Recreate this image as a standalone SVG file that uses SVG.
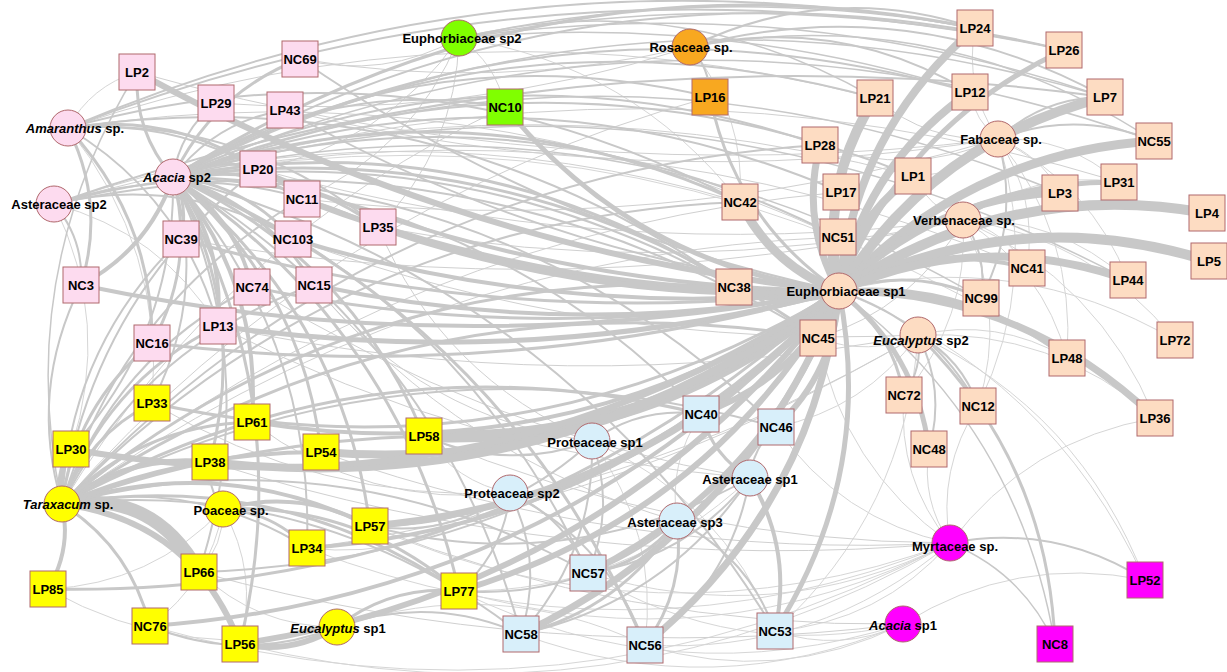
<svg xmlns="http://www.w3.org/2000/svg" width="1227" height="672" viewBox="0 0 1227 672">
<style>
.e{fill:none;stroke:#c8c8c8}
.t{fill:none;stroke:#d6d6d6}
.u{fill:none;stroke:#d0d0d0}
.n{stroke:#b0686c;stroke-width:1}
.pk{fill:#fddbef}.pe{fill:#fddcc2}.gr{fill:#80ff00}.or{fill:#f8a820}.ye{fill:#ffff00}.bl{fill:#d8effa}.mg{fill:#ff00ff}
text{font-family:"Liberation Sans",Arial,sans-serif;font-size:13px;font-weight:bold;fill:#000;text-anchor:middle}
.i{font-style:italic}
</style>
<rect width="1227" height="672" fill="#fff"/>
<g id="connectors">
<!-- thin -->
<g class="t" stroke-width="1">
<path d="M68 128Q91 86 137 72"/><path d="M68 128Q165 249 152 403"/>
<path d="M54 204Q112 323 71 449"/><path d="M54 204Q160 232 218 326"/>
<path d="M223 509Q224 545 199 572"/><path d="M223 509Q210 582 150 626"/><path d="M223 509Q259 573 240 644"/><path d="M223 509Q152 584 48 589"/>
<path d="M337 627Q185 666 48 589"/><path d="M337 627Q257 627 199 572"/><path d="M337 627Q495 574 645 645"/>
<path d="M592 441Q659 532 645 645"/><path d="M592 441Q722 499 775 631"/>
<path d="M510 493Q456 482 424 436"/><path d="M510 493Q420 561 307 548"/>
<path d="M750 478Q627 593 459 591"/><path d="M677 521Q668 463 701 414"/>
<path d="M950 543Q937 469 978 406"/><path d="M950 543Q921 500 929 449"/><path d="M950 543Q880 622 775 631"/><path d="M950 543Q818 655 645 645"/><path d="M950 543Q714 665 459 591"/><path d="M950 543Q775 630 588 573"/><path d="M950 543Q657 651 370 526"/><path d="M950 543Q840 520 776 427"/><path d="M950 543Q630 674 307 548"/><path d="M950 543Q843 467 818 338"/><path d="M950 543Q1028 440 1155 418"/><path d="M950 543Q897 478 904 395"/><path d="M950 543Q615 736 240 644"/><path d="M950 543Q567 745 150 626"/>
<path d="M903 624Q1015 554 1145 580"/><path d="M903 624Q840 653 775 631"/><path d="M903 624Q778 686 645 645"/><path d="M903 624Q714 705 521 634"/><path d="M903 624Q674 696 459 591"/><path d="M903 624Q735 662 588 573"/>
<path d="M918 335Q1081 412 1145 580"/><path d="M918 335Q997 317 1067 358"/><path d="M918 335Q1053 329 1155 418"/><path d="M918 335Q869 357 818 338"/><path d="M918 335Q906 512 775 631"/><path d="M918 335Q865 409 776 427"/>
<path d="M998 139Q975 121 970 92"/><path d="M998 139Q963 175 913 176"/><path d="M998 139Q1038 198 1027 268"/><path d="M998 139Q1067 136 1119 182"/><path d="M998 139Q1040 154 1060 193"/><path d="M998 139Q1091 184 1128 280"/><path d="M998 139Q1076 235 1067 358"/><path d="M998 139Q1041 277 978 406"/><path d="M998 139Q964 88 975 28"/>
<path d="M963 220Q1033 170 1119 182"/><path d="M963 220Q1005 231 1027 268"/><path d="M963 220Q1058 217 1128 280"/><path d="M963 220Q1008 310 978 406"/><path d="M963 220Q929 208 913 176"/><path d="M963 220Q1093 238 1175 340"/><path d="M963 220Q1043 268 1067 358"/><path d="M963 220Q969 319 904 395"/><path d="M963 220Q1099 281 1155 418"/>
<path d="M690 47Q746 115 740 202"/>
<path d="M459 38Q496 63 505 107"/><path d="M459 38Q632 64 740 202"/>
<path d="M839 291Q1017 248 1175 340"/><path d="M839 291Q1050 374 1145 580"/>
<path d="M173 177Q656 89 1067 358"/>
</g>
<g class="u" stroke-width="1">
<path d="M998 139Q561 192 137 72"/><path d="M998 139Q639 196 285 110"/><path d="M998 139Q656 239 302 199"/>
<path d="M963 220Q605 265 258 169"/><path d="M963 220Q574 308 181 239"/><path d="M963 220Q671 282 378 227"/>
<path d="M918 335Q596 350 293 239"/><path d="M918 335Q567 401 218 326"/>
<path d="M690 47Q459 122 216 103"/><path d="M690 47Q496 92 300 59"/>
<path d="M459 38Q385 144 258 169"/><path d="M459 38Q413 150 302 199"/><path d="M459 38Q456 149 378 227"/><path d="M459 38Q384 80 300 59"/>
<path d="M68 128Q467 -8 875 98"/><path d="M68 128Q469 67 838 237"/><path d="M54 204Q479 61 913 176"/><path d="M54 204Q397 100 740 202"/>
<path d="M173 177Q614 94 1027 268"/><path d="M173 177Q647 38 1119 182"/>
<path d="M62 504Q410 254 838 237"/><path d="M62 504Q405 231 841 192"/><path d="M62 504Q224 239 505 107"/><path d="M62 504Q325 203 710 97"/>
<path d="M592 441Q442 377 378 227"/><path d="M592 441Q422 419 314 285"/>
<path d="M750 478Q469 455 218 326"/><path d="M750 478Q482 432 252 287"/><path d="M677 521Q460 458 314 285"/>
<path d="M510 493Q367 509 252 422"/><path d="M510 493Q318 502 152 403"/>
<path d="M950 543Q676 542 424 436"/><path d="M950 543Q626 560 321 452"/><path d="M950 543Q572 577 210 462"/>
<path d="M903 624Q627 628 370 526"/><path d="M903 624Q546 668 199 572"/>
<path d="M918 335Q663 485 370 526"/><path d="M918 335Q634 503 307 548"/>
<path d="M963 220Q914 308 818 338"/><path d="M998 139Q910 178 820 145"/><path d="M998 139Q928 143 875 98"/>
</g>
<!-- medium/thick -->
<g class="e">
<path d="M459 38Q716 -19 975 28" stroke-width="1.5"/><path d="M459 38Q720 14 970 92" stroke-width="1.5"/><path d="M459 38Q763 -17 1064 50" stroke-width="1.5"/><path d="M459 38Q789 -10 1105 97" stroke-width="1.5"/><path d="M459 38Q679 -15 875 98" stroke-width="1.5"/>
<path d="M690 47Q710 68 710 97" stroke-width="2"/><path d="M690 47Q829 -20 975 28" stroke-width="2"/><path d="M690 47Q839 14 970 92" stroke-width="2"/><path d="M690 47Q908 -11 1105 97" stroke-width="2"/><path d="M690 47Q941 1 1154 141" stroke-width="1.5"/>
<path d="M998 139Q1043 97 1105 97" stroke-width="2"/><path d="M998 139Q1076 109 1154 141" stroke-width="2"/><path d="M998 139Q1021 222 981 298" stroke-width="2"/>
<path d="M963 220Q1006 187 1060 193" stroke-width="2"/><path d="M963 220Q988 255 981 298" stroke-width="2"/>
<path d="M918 335Q1048 462 1055 644" stroke-width="3"/><path d="M918 335Q962 359 978 406" stroke-width="2"/><path d="M918 335Q923 368 904 395" stroke-width="2"/><path d="M918 335Q946 390 929 449" stroke-width="2"/>
<path d="M950 543Q1055 523 1145 580" stroke-width="2"/><path d="M950 543Q1023 573 1055 644" stroke-width="1.5"/>
<path d="M839 291Q1018 424 1055 644" stroke-width="1.5"/>
<!-- Amaranthus -->
<path d="M68 128Q171 111 258 169" stroke-width="3"/><path d="M68 128Q106 204 81 285" stroke-width="3"/><path d="M68 128Q153 219 152 343" stroke-width="3"/><path d="M68 128Q183 197 218 326" stroke-width="2"/><path d="M68 128Q507 -58 975 28" stroke-width="2"/><path d="M68 128Q554 -60 1064 50" stroke-width="2"/><path d="M68 128Q433 74 734 287" stroke-width="2"/><path d="M68 128Q419 31 740 202" stroke-width="2"/><path d="M68 128Q243 116 378 227" stroke-width="2"/><path d="M68 128Q199 117 302 199" stroke-width="2"/>
<!-- Asteraceae sp2 -->
<path d="M54 204Q84 239 81 285" stroke-width="2"/><path d="M54 204Q221 151 378 227" stroke-width="2"/><path d="M54 204Q411 110 734 287" stroke-width="2"/><path d="M54 204Q181 174 293 239" stroke-width="2"/><path d="M54 204Q567 24 1105 97" stroke-width="2"/><path d="M54 204Q463 118 818 338" stroke-width="2"/>
<!-- Acacia sp2 -->
<path d="M173 177Q134 132 137 72" stroke-width="3"/><path d="M173 177Q213 93 300 59" stroke-width="3"/><path d="M173 177Q180 131 216 103" stroke-width="2"/><path d="M173 177Q216 121 285 110" stroke-width="2"/><path d="M173 177Q214 156 258 169" stroke-width="3"/><path d="M173 177Q242 162 302 199" stroke-width="3"/><path d="M173 177Q245 184 293 239" stroke-width="3"/><path d="M173 177Q286 161 378 227" stroke-width="3"/><path d="M173 177Q189 206 181 239" stroke-width="3"/><path d="M173 177Q149 249 81 285" stroke-width="4"/><path d="M173 177Q235 216 252 287" stroke-width="4"/><path d="M173 177Q265 203 314 285" stroke-width="3"/><path d="M173 177Q225 243 218 326" stroke-width="4"/><path d="M173 177Q196 264 152 343" stroke-width="3"/><path d="M173 177Q208 294 152 403" stroke-width="2"/><path d="M173 177Q262 284 252 422" stroke-width="4"/><path d="M173 177Q249 312 210 462" stroke-width="3"/><path d="M173 177Q302 285 321 452" stroke-width="3"/><path d="M173 177Q342 313 370 526" stroke-width="3"/><path d="M173 177Q299 397 240 644" stroke-width="3"/><path d="M173 177Q399 327 459 591" stroke-width="3"/><path d="M173 177Q503 317 645 645" stroke-width="3"/><path d="M173 177Q438 336 521 634" stroke-width="2"/><path d="M173 177Q460 292 588 573" stroke-width="2"/><path d="M173 177Q565 284 775 631" stroke-width="2"/><path d="M173 177Q484 190 701 414" stroke-width="2"/><path d="M173 177Q525 181 776 427" stroke-width="2"/><path d="M173 177Q350 256 424 436" stroke-width="3"/><path d="M173 177Q528 129 818 338" stroke-width="3"/><path d="M173 177Q476 120 734 287" stroke-width="3"/><path d="M173 177Q462 76 740 202" stroke-width="3"/><path d="M173 177Q490 32 820 145" stroke-width="2"/><path d="M173 177Q518 74 838 237" stroke-width="2"/><path d="M173 177Q510 51 841 192" stroke-width="2"/><path d="M173 177Q544 -58 975 28" stroke-width="3"/><path d="M173 177Q593 -65 1064 50" stroke-width="2"/><path d="M173 177Q555 -25 970 92" stroke-width="2"/><path d="M173 177Q508 -3 875 98" stroke-width="2"/><path d="M173 177Q325 76 505 107" stroke-width="2"/><path d="M173 177Q426 30 710 97" stroke-width="2"/><path d="M173 177Q265 369 199 572" stroke-width="2"/><path d="M173 177Q314 336 307 548" stroke-width="2"/><path d="M173 177Q176 333 71 449" stroke-width="2"/><path d="M173 177Q623 -49 1105 97" stroke-width="1.5"/><path d="M173 177Q656 -37 1154 141" stroke-width="1.5"/><path d="M173 177Q543 29 913 176" stroke-width="2"/><path d="M173 177Q620 8 1060 193" stroke-width="1.5"/><path d="M173 177Q671 38 1128 280" stroke-width="1.5"/><path d="M173 177Q601 76 981 298" stroke-width="1.5"/>
<!-- Taraxacum -->
<path d="M62 504Q56 475 71 449" stroke-width="6"/><path d="M62 504Q87 436 152 403" stroke-width="3"/><path d="M62 504Q128 453 210 462" stroke-width="5"/><path d="M62 504Q154 490 199 572" stroke-width="13"/><path d="M62 504Q193 521 240 644" stroke-width="6"/><path d="M62 504Q72 549 48 589" stroke-width="4"/><path d="M62 504Q130 547 150 626" stroke-width="3"/><path d="M62 504Q141 425 252 422" stroke-width="3"/><path d="M62 504Q75 406 152 343" stroke-width="3"/><path d="M62 504Q104 384 218 326" stroke-width="3"/><path d="M62 504Q69 348 181 239" stroke-width="2"/><path d="M62 504Q114 358 252 287" stroke-width="2"/><path d="M62 504Q93 297 258 169" stroke-width="2"/><path d="M62 504Q121 304 302 199" stroke-width="2"/><path d="M62 504Q144 344 314 285" stroke-width="2"/><path d="M62 504Q407 270 818 338" stroke-width="3"/><path d="M62 504Q355 261 734 287" stroke-width="3"/><path d="M62 504Q220 453 370 526" stroke-width="4"/><path d="M62 504Q278 468 459 591" stroke-width="3"/><path d="M62 504Q364 331 701 414" stroke-width="3"/><path d="M62 504Q341 217 740 202" stroke-width="2"/><path d="M62 504Q369 173 820 145" stroke-width="2"/><path d="M62 504Q28 391 81 285" stroke-width="2"/><path d="M62 504Q13 273 137 72" stroke-width="1.5"/><path d="M62 504Q404 323 776 427" stroke-width="2"/><path d="M62 504Q193 477 307 548" stroke-width="2"/><path d="M62 504Q318 477 521 634" stroke-width="2"/><path d="M62 504Q339 433 588 573" stroke-width="2"/><path d="M62 504Q186 452 321 452" stroke-width="4"/><path d="M62 504Q238 441 424 436" stroke-width="3"/>
<!-- Poaceae -->
<path d="M223 509Q300 488 370 526" stroke-width="4"/><path d="M223 509Q273 512 307 548" stroke-width="3"/><path d="M223 509Q207 488 210 462" stroke-width="2"/><path d="M223 509Q357 503 459 591" stroke-width="3"/>
<!-- Eucalyptus sp1 -->
<path d="M337 627Q292 655 240 644" stroke-width="6"/><path d="M337 627Q391 585 459 591" stroke-width="3"/><path d="M337 627Q243 664 150 626" stroke-width="2"/><path d="M337 627Q430 594 521 634" stroke-width="2"/>
<!-- Proteaceae / Asteraceae -->
<path d="M592 441Q641 406 701 414" stroke-width="2"/><path d="M592 441Q616 508 588 573" stroke-width="2"/><path d="M592 441Q595 552 521 634" stroke-width="2"/><path d="M592 441Q507 472 424 436" stroke-width="2"/><path d="M592 441Q498 528 370 526" stroke-width="2"/>
<path d="M510 493Q544 561 521 634" stroke-width="2"/><path d="M510 493Q504 552 459 591" stroke-width="2"/><path d="M510 493Q565 517 588 573" stroke-width="2"/><path d="M510 493Q447 538 370 526" stroke-width="2"/><path d="M510 493Q608 542 645 645" stroke-width="2"/>
<path d="M750 478Q793 550 775 631" stroke-width="4"/><path d="M750 478Q753 447 776 427" stroke-width="2"/><path d="M750 478Q713 456 701 414" stroke-width="3"/><path d="M750 478Q731 583 645 645" stroke-width="2"/><path d="M750 478Q688 558 588 573" stroke-width="2"/><path d="M750 478Q667 602 521 634" stroke-width="2"/><path d="M750 478Q570 578 370 526" stroke-width="2"/>
<path d="M677 521Q643 565 588 573" stroke-width="3"/><path d="M677 521Q686 589 645 645" stroke-width="3"/><path d="M677 521Q748 556 775 631" stroke-width="2"/><path d="M677 521Q622 609 521 634" stroke-width="3"/><path d="M677 521Q582 600 459 591" stroke-width="2"/>
<!-- Euphorbiaceae sp1 hub -->
<path d="M839 291Q854 132 975 28" stroke-width="8"/><path d="M839 291Q903 125 1064 50" stroke-width="5"/><path d="M839 291Q818 187 875 98" stroke-width="10"/><path d="M839 291Q865 165 970 92" stroke-width="8"/><path d="M839 291Q933 141 1105 97" stroke-width="10"/><path d="M839 291Q800 222 820 145" stroke-width="7"/><path d="M839 291Q820 241 841 192" stroke-width="6"/><path d="M839 291Q853 219 913 176" stroke-width="8"/><path d="M839 291Q967 153 1154 141" stroke-width="9"/><path d="M839 291Q930 198 1060 193" stroke-width="7"/><path d="M839 291Q957 181 1119 182" stroke-width="5"/><path d="M839 291Q1007 178 1207 213" stroke-width="10"/><path d="M839 291Q1019 202 1209 261" stroke-width="10"/><path d="M839 291Q828 264 838 237" stroke-width="9"/><path d="M839 291Q928 242 1027 268" stroke-width="4"/><path d="M839 291Q981 228 1128 280" stroke-width="8"/><path d="M839 291Q911 266 981 298" stroke-width="3"/><path d="M839 291Q966 279 1067 358" stroke-width="4"/><path d="M839 291Q1022 291 1155 418" stroke-width="7"/><path d="M839 291Q892 330 904 395" stroke-width="3"/><path d="M839 291Q932 321 978 406" stroke-width="2"/><path d="M839 291Q916 352 929 449" stroke-width="5"/><path d="M839 291Q838 319 818 338" stroke-width="9"/><path d="M839 291Q772 266 740 202" stroke-width="9"/><path d="M839 291Q786 310 734 287" stroke-width="6"/>
<path d="M839 291Q466 252 137 72" stroke-width="6"/><path d="M839 291Q536 288 258 169" stroke-width="4"/><path d="M839 291Q561 299 302 199" stroke-width="6"/><path d="M839 291Q602 305 378 227" stroke-width="6"/><path d="M839 291Q561 320 293 239" stroke-width="4"/><path d="M839 291Q576 341 314 285" stroke-width="4"/><path d="M839 291Q545 348 252 287" stroke-width="3"/><path d="M839 291Q532 371 218 326" stroke-width="5"/><path d="M839 291Q501 386 152 343" stroke-width="3"/><path d="M839 291Q459 364 81 285" stroke-width="4"/><path d="M839 291Q505 331 181 239" stroke-width="3"/><path d="M839 291Q544 256 285 110" stroke-width="2"/><path d="M839 291Q546 229 300 59" stroke-width="2"/><path d="M839 291Q635 266 505 107" stroke-width="5"/><path d="M839 291Q735 220 710 97" stroke-width="3"/>
<path d="M839 291Q660 446 424 436" stroke-width="12"/><path d="M839 291Q612 475 321 452" stroke-width="8"/><path d="M839 291Q559 502 210 462" stroke-width="8"/><path d="M839 291Q487 524 71 449" stroke-width="6"/><path d="M839 291Q518 484 152 403" stroke-width="3"/><path d="M839 291Q572 474 252 422" stroke-width="4"/><path d="M839 291Q652 502 370 526" stroke-width="7"/><path d="M839 291Q624 526 307 548" stroke-width="4"/><path d="M839 291Q709 517 459 591" stroke-width="6"/><path d="M839 291Q575 560 199 572" stroke-width="2"/><path d="M839 291Q503 598 48 589" stroke-width="3"/><path d="M839 291Q562 597 150 626" stroke-width="4"/><path d="M839 291Q611 588 240 644" stroke-width="6"/>
<path d="M839 291Q795 380 701 414" stroke-width="6"/><path d="M839 291Q835 372 776 427" stroke-width="6"/><path d="M839 291Q770 482 588 573" stroke-width="6"/><path d="M839 291Q749 526 521 634" stroke-width="7"/><path d="M839 291Q813 507 645 645" stroke-width="7"/><path d="M839 291Q875 474 775 631" stroke-width="5"/>
</g>
</g>
<g id="nodes">
<g id="n-LP2"><rect class="n pk" x="119" y="54" width="36" height="36"/><text x="137" y="77">LP2</text></g>
<g id="n-NC69"><rect class="n pk" x="282" y="41" width="36" height="36"/><text x="300" y="64">NC69</text></g>
<g id="n-LP29"><rect class="n pk" x="198" y="85" width="36" height="36"/><text x="216" y="108">LP29</text></g>
<g id="n-LP43"><rect class="n pk" x="267" y="92" width="36" height="36"/><text x="285" y="115">LP43</text></g>
<g id="n-LP20"><rect class="n pk" x="240" y="151" width="36" height="36"/><text x="258" y="174">LP20</text></g>
<g id="n-NC11"><rect class="n pk" x="284" y="181" width="36" height="36"/><text x="302" y="204">NC11</text></g>
<g id="n-NC103"><rect class="n pk" x="275" y="221" width="36" height="36"/><text x="293" y="244">NC103</text></g>
<g id="n-LP35"><rect class="n pk" x="360" y="209" width="36" height="36"/><text x="378" y="232">LP35</text></g>
<g id="n-NC39"><rect class="n pk" x="163" y="221" width="36" height="36"/><text x="181" y="244">NC39</text></g>
<g id="n-NC3"><rect class="n pk" x="63" y="267" width="36" height="36"/><text x="81" y="290">NC3</text></g>
<g id="n-NC74"><rect class="n pk" x="234" y="269" width="36" height="36"/><text x="252" y="292">NC74</text></g>
<g id="n-NC15"><rect class="n pk" x="296" y="267" width="36" height="36"/><text x="314" y="290">NC15</text></g>
<g id="n-LP13"><rect class="n pk" x="200" y="308" width="36" height="36"/><text x="218" y="331">LP13</text></g>
<g id="n-NC16"><rect class="n pk" x="134" y="325" width="36" height="36"/><text x="152" y="348">NC16</text></g>
<g id="n-amaranthus"><circle class="n pk" cx="68" cy="128" r="18"/><text x="75" y="133"><tspan class="i">Amaranthus</tspan> sp.</text></g>
<g id="n-acacia2"><circle class="n pk" cx="173" cy="177" r="18"/><text x="177" y="182"><tspan class="i">Acacia</tspan> sp2</text></g>
<g id="n-asteraceae2"><circle class="n pk" cx="54" cy="204" r="18"/><text x="59" y="209">Asteraceae sp2</text></g>
<g id="n-NC10"><rect class="n gr" x="487" y="89" width="36" height="36"/><text x="505" y="112">NC10</text></g>
<g id="n-euph2"><circle class="n gr" cx="459" cy="38" r="18"/><text x="462" y="43">Euphorbiaceae sp2</text></g>
<g id="n-LP16"><rect class="n or" x="692" y="79" width="36" height="36"/><text x="710" y="102">LP16</text></g>
<g id="n-rosaceae"><circle class="n or" cx="690" cy="47" r="18"/><text x="691" y="52">Rosaceae sp.</text></g>
<g id="n-LP24"><rect class="n pe" x="957" y="10" width="36" height="36"/><text x="975" y="33">LP24</text></g>
<g id="n-LP26"><rect class="n pe" x="1046" y="32" width="36" height="36"/><text x="1064" y="55">LP26</text></g>
<g id="n-LP21"><rect class="n pe" x="857" y="80" width="36" height="36"/><text x="875" y="103">LP21</text></g>
<g id="n-LP12"><rect class="n pe" x="952" y="74" width="36" height="36"/><text x="970" y="97">LP12</text></g>
<g id="n-LP7"><rect class="n pe" x="1087" y="79" width="36" height="36"/><text x="1105" y="102">LP7</text></g>
<g id="n-LP28"><rect class="n pe" x="802" y="127" width="36" height="36"/><text x="820" y="150">LP28</text></g>
<g id="n-NC55"><rect class="n pe" x="1136" y="123" width="36" height="36"/><text x="1154" y="146">NC55</text></g>
<g id="n-LP17"><rect class="n pe" x="823" y="174" width="36" height="36"/><text x="841" y="197">LP17</text></g>
<g id="n-LP1"><rect class="n pe" x="895" y="158" width="36" height="36"/><text x="913" y="181">LP1</text></g>
<g id="n-LP3"><rect class="n pe" x="1042" y="175" width="36" height="36"/><text x="1060" y="198">LP3</text></g>
<g id="n-LP31"><rect class="n pe" x="1101" y="164" width="36" height="36"/><text x="1119" y="187">LP31</text></g>
<g id="n-LP4"><rect class="n pe" x="1189" y="195" width="36" height="36"/><text x="1207" y="218">LP4</text></g>
<g id="n-NC42"><rect class="n pe" x="722" y="184" width="36" height="36"/><text x="740" y="207">NC42</text></g>
<g id="n-NC51"><rect class="n pe" x="820" y="219" width="36" height="36"/><text x="838" y="242">NC51</text></g>
<g id="n-LP5"><rect class="n pe" x="1191" y="243" width="36" height="36"/><text x="1209" y="266">LP5</text></g>
<g id="n-NC41"><rect class="n pe" x="1009" y="250" width="36" height="36"/><text x="1027" y="273">NC41</text></g>
<g id="n-LP44"><rect class="n pe" x="1110" y="262" width="36" height="36"/><text x="1128" y="285">LP44</text></g>
<g id="n-NC38"><rect class="n pe" x="716" y="269" width="36" height="36"/><text x="734" y="292">NC38</text></g>
<g id="n-NC99"><rect class="n pe" x="963" y="280" width="36" height="36"/><text x="981" y="303">NC99</text></g>
<g id="n-NC45"><rect class="n pe" x="800" y="320" width="36" height="36"/><text x="818" y="343">NC45</text></g>
<g id="n-LP72"><rect class="n pe" x="1157" y="322" width="36" height="36"/><text x="1175" y="345">LP72</text></g>
<g id="n-LP48"><rect class="n pe" x="1049" y="340" width="36" height="36"/><text x="1067" y="363">LP48</text></g>
<g id="n-NC72"><rect class="n pe" x="886" y="377" width="36" height="36"/><text x="904" y="400">NC72</text></g>
<g id="n-NC12"><rect class="n pe" x="960" y="388" width="36" height="36"/><text x="978" y="411">NC12</text></g>
<g id="n-LP36"><rect class="n pe" x="1137" y="400" width="36" height="36"/><text x="1155" y="423">LP36</text></g>
<g id="n-NC48"><rect class="n pe" x="911" y="431" width="36" height="36"/><text x="929" y="454">NC48</text></g>
<g id="n-fabaceae"><circle class="n pe" cx="998" cy="139" r="18"/><text x="1001" y="144">Fabaceae sp.</text></g>
<g id="n-verbenaceae"><circle class="n pe" cx="963" cy="220" r="18"/><text x="964" y="225">Verbenaceae sp.</text></g>
<g id="n-euph1"><circle class="n pe" cx="839" cy="291" r="18"/><text x="846" y="296">Euphorbiaceae sp1</text></g>
<g id="n-eucalyptus2"><circle class="n pe" cx="918" cy="335" r="18"/><text x="921" y="345"><tspan class="i">Eucalyptus</tspan> sp2</text></g>
<g id="n-LP52"><rect class="n mg" x="1127" y="562" width="36" height="36"/><text x="1145" y="585">LP52</text></g>
<g id="n-NC8"><rect class="n mg" x="1037" y="626" width="36" height="36"/><text x="1055" y="649">NC8</text></g>
<g id="n-myrtaceae"><circle class="n mg" cx="950" cy="543" r="18"/><text x="955" y="551">Myrtaceae sp.</text></g>
<g id="n-acacia1"><circle class="n mg" cx="903" cy="624" r="18"/><text x="903" y="630"><tspan class="i">Acacia</tspan> sp1</text></g>
<g id="n-NC40"><rect class="n bl" x="683" y="396" width="36" height="36"/><text x="701" y="419">NC40</text></g>
<g id="n-NC46"><rect class="n bl" x="758" y="409" width="36" height="36"/><text x="776" y="432">NC46</text></g>
<g id="n-NC57"><rect class="n bl" x="570" y="555" width="36" height="36"/><text x="588" y="578">NC57</text></g>
<g id="n-NC58"><rect class="n bl" x="503" y="616" width="36" height="36"/><text x="521" y="639">NC58</text></g>
<g id="n-NC56"><rect class="n bl" x="627" y="627" width="36" height="36"/><text x="645" y="650">NC56</text></g>
<g id="n-NC53"><rect class="n bl" x="757" y="613" width="36" height="36"/><text x="775" y="636">NC53</text></g>
<g id="n-proteaceae1"><circle class="n bl" cx="592" cy="441" r="18"/><text x="595" y="447">Proteaceae sp1</text></g>
<g id="n-proteaceae2"><circle class="n bl" cx="510" cy="493" r="18"/><text x="512" y="498">Proteaceae sp2</text></g>
<g id="n-asteraceae1"><circle class="n bl" cx="750" cy="478" r="18"/><text x="750" y="484">Asteraceae sp1</text></g>
<g id="n-asteraceae3"><circle class="n bl" cx="677" cy="521" r="18"/><text x="675" y="527">Asteraceae sp3</text></g>
<g id="n-LP33"><rect class="n ye" x="134" y="385" width="36" height="36"/><text x="152" y="408">LP33</text></g>
<g id="n-LP30"><rect class="n ye" x="53" y="431" width="36" height="36"/><text x="71" y="454">LP30</text></g>
<g id="n-LP61"><rect class="n ye" x="234" y="404" width="36" height="36"/><text x="252" y="427">LP61</text></g>
<g id="n-LP54"><rect class="n ye" x="303" y="434" width="36" height="36"/><text x="321" y="457">LP54</text></g>
<g id="n-LP38"><rect class="n ye" x="192" y="444" width="36" height="36"/><text x="210" y="467">LP38</text></g>
<g id="n-LP58"><rect class="n ye" x="406" y="418" width="36" height="36"/><text x="424" y="441">LP58</text></g>
<g id="n-LP57"><rect class="n ye" x="352" y="508" width="36" height="36"/><text x="370" y="531">LP57</text></g>
<g id="n-LP34"><rect class="n ye" x="289" y="530" width="36" height="36"/><text x="307" y="553">LP34</text></g>
<g id="n-LP66"><rect class="n ye" x="181" y="554" width="36" height="36"/><text x="199" y="577">LP66</text></g>
<g id="n-LP85"><rect class="n ye" x="30" y="571" width="36" height="36"/><text x="48" y="594">LP85</text></g>
<g id="n-NC76"><rect class="n ye" x="132" y="608" width="36" height="36"/><text x="150" y="631">NC76</text></g>
<g id="n-LP56"><rect class="n ye" x="222" y="626" width="36" height="36"/><text x="240" y="649">LP56</text></g>
<g id="n-LP77"><rect class="n ye" x="441" y="573" width="36" height="36"/><text x="459" y="596">LP77</text></g>
<g id="n-taraxacum"><circle class="n ye" cx="62" cy="504" r="18"/><text x="68" y="509"><tspan class="i">Taraxacum</tspan> sp.</text></g>
<g id="n-poaceae"><circle class="n ye" cx="223" cy="509" r="18"/><text x="231" y="515">Poaceae sp.</text></g>
<g id="n-eucalyptus1"><circle class="n ye" cx="337" cy="627" r="18"/><text x="338" y="633"><tspan class="i">Eucalyptus</tspan> sp1</text></g>
</g>
</svg>
